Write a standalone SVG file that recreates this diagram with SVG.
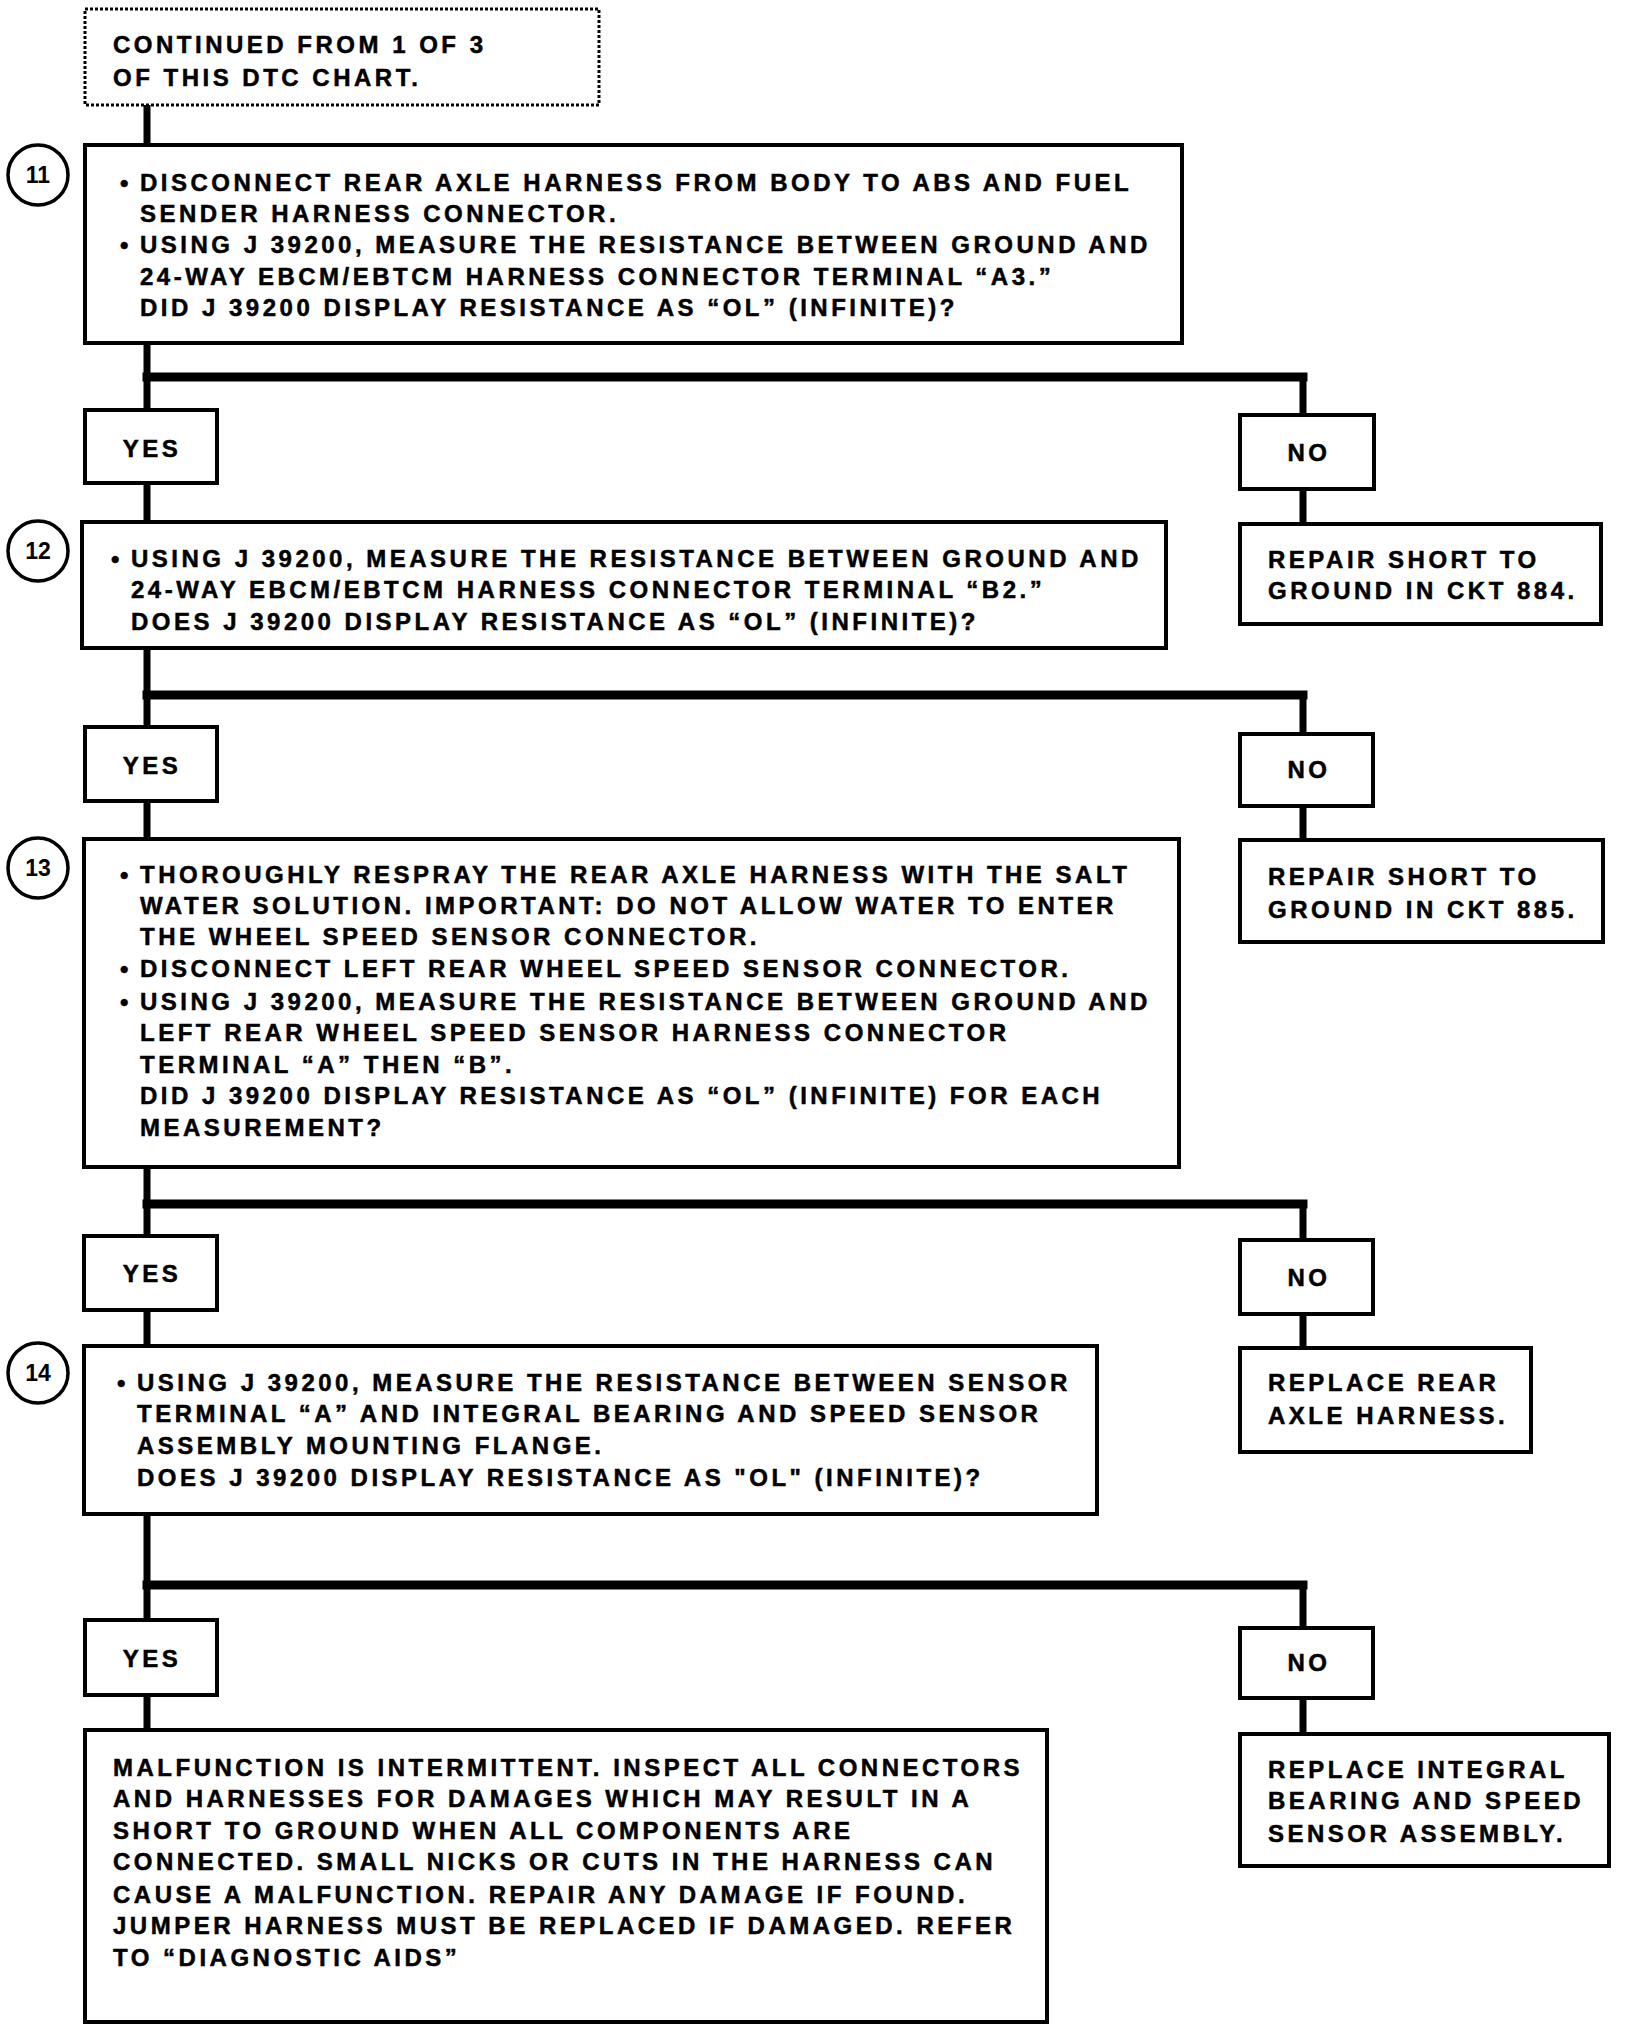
<svg xmlns="http://www.w3.org/2000/svg" width="1632" height="2030" viewBox="0 0 1632 2030">
<style>
.bx{fill:#fff;stroke:#000;stroke-width:4}
.dot{fill:#fff;stroke:#000;stroke-width:3;stroke-dasharray:3 2}
.t{font-family:"Liberation Sans",Arial,sans-serif;font-weight:bold;font-size:24px;letter-spacing:3.5px;fill:#000;stroke:#000;stroke-width:0.5}
.m{text-anchor:middle}
.c{fill:#fff;stroke:#000;stroke-width:3.5}
.n{font-family:"Liberation Sans",Arial,sans-serif;font-weight:bold;font-size:23px;fill:#000;text-anchor:middle}
.v{stroke:#000;stroke-width:7;fill:none}
.h{stroke:#000;stroke-width:9;fill:none;stroke-linecap:square}
</style>
<rect width="1632" height="2030" fill="#fff"/>
<g id="connectors">
<line class="v" x1="147" y1="105" x2="147" y2="145"/>
<line class="v" x1="147" y1="343" x2="147" y2="410"/>
<path class="h" d="M147 377 H1303"/>
<line class="v" x1="1303" y1="377" x2="1303" y2="415"/>
<line class="v" x1="147" y1="483" x2="147" y2="522"/>
<line class="v" x1="1303" y1="489" x2="1303" y2="524"/>
<line class="v" x1="147" y1="648" x2="147" y2="727"/>
<path class="h" d="M147 695 H1303"/>
<line class="v" x1="1303" y1="695" x2="1303" y2="734"/>
<line class="v" x1="147" y1="801" x2="147" y2="839"/>
<line class="v" x1="1303" y1="806" x2="1303" y2="840"/>
<line class="v" x1="147" y1="1167" x2="147" y2="1236"/>
<path class="h" d="M147 1204 H1303"/>
<line class="v" x1="1303" y1="1204" x2="1303" y2="1240"/>
<line class="v" x1="147" y1="1310" x2="147" y2="1346"/>
<line class="v" x1="1303" y1="1314" x2="1303" y2="1348"/>
<line class="v" x1="147" y1="1514" x2="147" y2="1620"/>
<path class="h" d="M147 1585 H1303"/>
<line class="v" x1="1303" y1="1585" x2="1303" y2="1628"/>
<line class="v" x1="147" y1="1695" x2="147" y2="1730"/>
<line class="v" x1="1303" y1="1698" x2="1303" y2="1734"/>
</g>
<g id="start">
<rect class="dot" x="85" y="9" width="514" height="96"/>
<text class="t" x="113" y="53">CONTINUED FROM 1 OF 3</text>
<text class="t" x="113" y="86">OF THIS DTC CHART.</text>
</g>
<g id="step11">
<ellipse class="c" cx="38" cy="175" rx="30" ry="30"/>
<text class="n" x="38" y="183">11</text>
<rect class="bx" x="85" y="145" width="1097" height="198"/>
<text class="t"><tspan x="120" y="191">•</tspan><tspan x="140" y="191">DISCONNECT REAR AXLE HARNESS FROM BODY TO ABS AND FUEL</tspan></text>
<text class="t" x="140" y="222">SENDER HARNESS CONNECTOR.</text>
<text class="t"><tspan x="120" y="253">•</tspan><tspan x="140" y="253">USING J 39200, MEASURE THE RESISTANCE BETWEEN GROUND AND</tspan></text>
<text class="t" x="140" y="285">24-WAY EBCM/EBTCM HARNESS CONNECTOR TERMINAL “A3.”</text>
<text class="t" x="140" y="316">DID J 39200 DISPLAY RESISTANCE AS “OL” (INFINITE)?</text>
</g>
<g id="yes1"><rect class="bx" x="85" y="410" width="132" height="73"/><text class="t m" x="152" y="457">YES</text></g>
<g id="no1"><rect class="bx" x="1240" y="415" width="134" height="74"/><text class="t m" x="1309" y="461">NO</text></g>
<g id="ckt884">
<rect class="bx" x="1240" y="524" width="361" height="100"/>
<text class="t" x="1268" y="568">REPAIR SHORT TO</text>
<text class="t" x="1268" y="599">GROUND IN CKT 884.</text>
</g>
<g id="step12">
<ellipse class="c" cx="38" cy="551" rx="30" ry="30"/>
<text class="n" x="38" y="559">12</text>
<rect class="bx" x="82" y="522" width="1084" height="126"/>
<text class="t"><tspan x="111" y="567">•</tspan><tspan x="131" y="567">USING J 39200, MEASURE THE RESISTANCE BETWEEN GROUND AND</tspan></text>
<text class="t" x="131" y="598">24-WAY EBCM/EBTCM HARNESS CONNECTOR TERMINAL “B2.”</text>
<text class="t" x="131" y="630">DOES J 39200 DISPLAY RESISTANCE AS “OL” (INFINITE)?</text>
</g>
<g id="yes2"><rect class="bx" x="85" y="727" width="132" height="74"/><text class="t m" x="152" y="774">YES</text></g>
<g id="no2"><rect class="bx" x="1240" y="734" width="133" height="72"/><text class="t m" x="1309" y="778">NO</text></g>
<g id="ckt885">
<rect class="bx" x="1240" y="840" width="363" height="102"/>
<text class="t" x="1268" y="885">REPAIR SHORT TO</text>
<text class="t" x="1268" y="918">GROUND IN CKT 885.</text>
</g>
<g id="step13">
<ellipse class="c" cx="38" cy="868" rx="30" ry="30"/>
<text class="n" x="38" y="876">13</text>
<rect class="bx" x="84" y="839" width="1095" height="328"/>
<text class="t"><tspan x="120" y="883">•</tspan><tspan x="140" y="883">THOROUGHLY RESPRAY THE REAR AXLE HARNESS WITH THE SALT</tspan></text>
<text class="t" x="140" y="914">WATER SOLUTION. IMPORTANT: DO NOT ALLOW WATER TO ENTER</text>
<text class="t" x="140" y="945">THE WHEEL SPEED SENSOR CONNECTOR.</text>
<text class="t"><tspan x="120" y="977">•</tspan><tspan x="140" y="977">DISCONNECT LEFT REAR WHEEL SPEED SENSOR CONNECTOR.</tspan></text>
<text class="t"><tspan x="120" y="1010">•</tspan><tspan x="140" y="1010">USING J 39200, MEASURE THE RESISTANCE BETWEEN GROUND AND</tspan></text>
<text class="t" x="140" y="1041">LEFT REAR WHEEL SPEED SENSOR HARNESS CONNECTOR</text>
<text class="t" x="140" y="1073">TERMINAL “A” THEN “B”.</text>
<text class="t" x="140" y="1104">DID J 39200 DISPLAY RESISTANCE AS “OL” (INFINITE) FOR EACH</text>
<text class="t" x="140" y="1136">MEASUREMENT?</text>
</g>
<g id="yes3"><rect class="bx" x="84" y="1236" width="133" height="74"/><text class="t m" x="152" y="1282">YES</text></g>
<g id="no3"><rect class="bx" x="1240" y="1240" width="133" height="74"/><text class="t m" x="1309" y="1286">NO</text></g>
<g id="replace-harness">
<rect class="bx" x="1240" y="1348" width="291" height="104"/>
<text class="t" x="1268" y="1391">REPLACE REAR</text>
<text class="t" x="1268" y="1424">AXLE HARNESS.</text>
</g>
<g id="step14">
<ellipse class="c" cx="38" cy="1373" rx="30" ry="30"/>
<text class="n" x="38" y="1381">14</text>
<rect class="bx" x="84" y="1346" width="1013" height="168"/>
<text class="t"><tspan x="117" y="1391">•</tspan><tspan x="137" y="1391">USING J 39200, MEASURE THE RESISTANCE BETWEEN SENSOR</tspan></text>
<text class="t" x="137" y="1422">TERMINAL “A” AND INTEGRAL BEARING AND SPEED SENSOR</text>
<text class="t" x="137" y="1454">ASSEMBLY MOUNTING FLANGE.</text>
<text class="t" x="137" y="1486">DOES J 39200 DISPLAY RESISTANCE AS "OL" (INFINITE)?</text>
</g>
<g id="yes4"><rect class="bx" x="85" y="1620" width="132" height="75"/><text class="t m" x="152" y="1667">YES</text></g>
<g id="no4"><rect class="bx" x="1240" y="1628" width="133" height="70"/><text class="t m" x="1309" y="1671">NO</text></g>
<g id="intermittent">
<rect class="bx" x="85" y="1730" width="962" height="292"/>
<text class="t" x="113" y="1776">MALFUNCTION IS INTERMITTENT. INSPECT ALL CONNECTORS</text>
<text class="t" x="113" y="1807">AND HARNESSES FOR DAMAGES WHICH MAY RESULT IN A</text>
<text class="t" x="113" y="1839">SHORT TO GROUND WHEN ALL COMPONENTS ARE</text>
<text class="t" x="113" y="1870">CONNECTED. SMALL NICKS OR CUTS IN THE HARNESS CAN</text>
<text class="t" x="113" y="1903">CAUSE A MALFUNCTION. REPAIR ANY DAMAGE IF FOUND.</text>
<text class="t" x="113" y="1934">JUMPER HARNESS MUST BE REPLACED IF DAMAGED. REFER</text>
<text class="t" x="113" y="1966">TO “DIAGNOSTIC AIDS”</text>
</g>
<g id="replace-sensor">
<rect class="bx" x="1240" y="1734" width="369" height="132"/>
<text class="t" x="1268" y="1778">REPLACE INTEGRAL</text>
<text class="t" x="1268" y="1809">BEARING AND SPEED</text>
<text class="t" x="1268" y="1842">SENSOR ASSEMBLY.</text>
</g>
</svg>
